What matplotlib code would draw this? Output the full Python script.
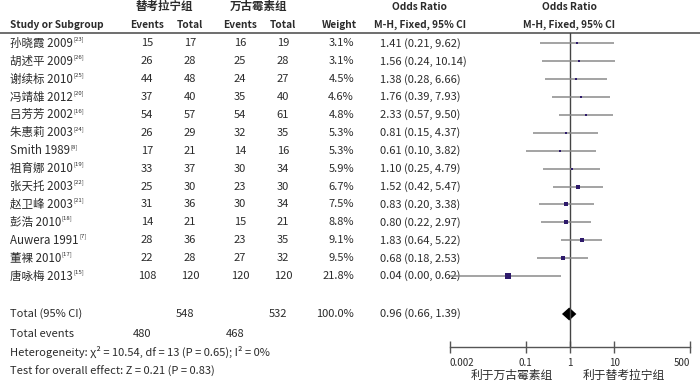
'''Forest plot: teicoplanin vs vancomycin, odds ratio (M-H, fixed)'''

import numpy as np
import matplotlib
matplotlib.use("Agg")
import matplotlib.pyplot as plt

plt.rcParams['font.family'] = ['Noto Sans CJK SC', 'DejaVu Sans']

# data
studies = ['孙晓霞 2009', '胡述平 2009', '谢续标 2010', '冯靖雄 2012', '吕芳芳 2002',
           '朱惠莉 2003', 'Smith 1989', '祖育娜 2010', '张天托 2003', '赵卫峰 2003',
           '彭浩 2010', 'Auwera 1991', '董裸 2010', '唐咏梅 2013']
refs = [23, 26, 25, 20, 16, 24, 8, 19, 22, 21, 18, 7, 17, 15]
events_t = [15, 26, 44, 37, 54, 26, 17, 33, 25, 31, 14, 28, 22, 108]
total_t = [17, 28, 48, 40, 57, 29, 21, 37, 30, 36, 21, 36, 28, 120]
events_v = [16, 25, 24, 35, 54, 32, 14, 30, 23, 30, 15, 23, 27, 120]
total_v = [19, 28, 27, 40, 61, 35, 16, 34, 30, 34, 21, 35, 32, 120]
weights = [3.1, 3.1, 4.5, 4.6, 4.8, 5.3, 5.3, 5.9, 6.7, 7.5, 8.8, 9.1, 9.5, 21.8]
odds = [1.41, 1.56, 1.38, 1.76, 2.33, 0.81, 0.61, 1.10, 1.52, 0.83, 0.80, 1.83, 0.68, 0.04]
ci_low = [0.21, 0.24, 0.28, 0.39, 0.57, 0.15, 0.10, 0.25, 0.42, 0.20, 0.22, 0.64, 0.18, 0.00]
ci_high = [9.62, 10.14, 6.66, 7.93, 9.50, 4.37, 3.82, 4.79, 5.47, 3.38, 2.97, 5.22, 2.53, 0.62]

total_n_t, total_n_v = 548, 532
total_ev_t, total_ev_v = 480, 468
pooled = (0.96, 0.66, 1.39)

xticks = [0.002, 0.1, 1, 10, 500]
xtick_labels = ['0.002', '0.1', '1', '10', '500']

TXT = '#2b2b2b'
MARK = '#2e1a6b'
FS = 8

W, H = 700, 381
fig = plt.figure(figsize=(W / 100, H / 100), dpi=100)
renderer = fig.canvas.get_renderer()

# table axes in pixel coordinates
tab = fig.add_axes([0, 0, 1, 1])
tab.set_xlim(0, W)
tab.set_ylim(H, 0)
tab.axis('off')

# column positions
x_name = 10
x_et, x_nt, x_ev, x_nv = 147, 190, 240, 283
x_w = 354
x_or = 380

row_y = 43.3 + 17.9 * np.arange(len(studies))
y_total = 314
y_events = 334
y_het = 352
y_test = 371

# headers
hdr = dict(fontsize=7.3, color=TXT, fontweight='bold', va='center')
tab.text(164, 6.5, '替考拉宁组', ha='center', **{**hdr, 'fontsize': 8.3})
tab.text(259, 6.5, '万古霉素组', ha='center', **{**hdr, 'fontsize': 8.3})
tab.text(420, 6.5, 'Odds Ratio', ha='center', **hdr)
tab.text(569, 6.5, 'Odds Ratio', ha='center', **hdr)
tab.text(x_name, 24.5, 'Study or Subgroup', ha='left', **hdr)
tab.text(x_et, 24.5, 'Events', ha='center', **hdr)
tab.text(x_nt, 24.5, 'Total', ha='center', **hdr)
tab.text(x_ev, 24.5, 'Events', ha='center', **hdr)
tab.text(x_nv, 24.5, 'Total', ha='center', **hdr)
tab.text(357, 24.5, 'Weight', ha='right', **hdr)
tab.text(420, 24.5, 'M-H, Fixed, 95% CI', ha='center', **hdr)
tab.text(569, 24.5, 'M-H, Fixed, 95% CI', ha='center', **hdr)
tab.plot([0, W], [33, 33], color='#555555', lw=1.2)

body = dict(fontsize=FS, color=TXT, va='center')
for i, y in enumerate(row_y):
    name = tab.text(x_name, y, studies[i], ha='left', **{**body, 'fontsize': 8.3})
    # small reference number right after the study name
    x_end = name.get_window_extent(renderer).x1
    tab.text(x_end + 0.5, y - 4, f'[{refs[i]}]', ha='left', fontsize=4.3, color=TXT, va='center')
    tab.text(x_et, y, str(events_t[i]), ha='center', **body)
    tab.text(x_nt, y, str(total_t[i]), ha='center', **body)
    tab.text(x_ev, y, str(events_v[i]), ha='center', **body)
    tab.text(x_nv, y, str(total_v[i]), ha='center', **body)
    tab.text(x_w, y, f'{weights[i]:.1f}%', ha='right', **body)
    tab.text(x_or, y, f'{odds[i]:.2f} ({ci_low[i]:.2f}, {ci_high[i]:.2f})', ha='left', **body)

tab.text(x_name, y_total, 'Total (95% CI)', ha='left', **body)
tab.text(x_nt - 5, y_total, str(total_n_t), ha='center', **body)
tab.text(x_nv - 5, y_total, str(total_n_v), ha='center', **body)
tab.text(x_w, y_total, f'{sum(weights):.1f}%', ha='right', **body)
tab.text(x_or, y_total, f'{pooled[0]:.2f} ({pooled[1]:.2f}, {pooled[2]:.2f})', ha='left', **body)
tab.text(x_name, y_events, 'Total events', ha='left', **body)
tab.text(x_et - 5, y_events, str(total_ev_t), ha='center', **body)
tab.text(x_ev - 5, y_events, str(total_ev_v), ha='center', **body)
tab.text(x_name, y_het, 'Heterogeneity: χ² = 10.54, df = 13 (P = 0.65); I² = 0%', ha='left', **body)
tab.text(x_name, y_test, 'Test for overall effect: Z = 0.21 (P = 0.83)', ha='left', **body)

# forest axes: x in log OR, y shares the table's pixel rows
ax_bottom = 347
fx0, fx1 = 450, 690
ax = fig.add_axes([fx0 / W, (H - ax_bottom) / H, (fx1 - fx0) / W, (ax_bottom - 33) / H])
ax.set_xscale('log')
ax.set_xlim(xticks[0], xticks[-1])
ax.set_ylim(ax_bottom, 33)
ax.patch.set_alpha(0)
for s in ['top', 'left', 'right']:
    ax.spines[s].set_visible(False)
ax.spines['bottom'].set_color('#555555')
ax.spines['bottom'].set_linewidth(1)
ax.set_yticks([])
ax.set_xticks(xticks)
ax.set_xticklabels(xtick_labels)
ax.minorticks_off()
ax.tick_params(axis='x', direction='inout', length=8, width=1, color='#555555',
               labelsize=7, labelcolor=TXT, pad=4)
labels = ax.get_xticklabels()
labels[0].set_ha('left')
labels[-1].set_ha('right')

ax.axvline(1, color='#444444', lw=1)

lo = np.clip(ci_low, xticks[0], xticks[-1])
hi = np.clip(ci_high, xticks[0], xticks[-1])
ax.hlines(row_y, lo, hi, color='#8a8a8a', lw=1.1)
for i, y in enumerate(row_y):
    side_px = 5.5 * np.sqrt(weights[i] / max(weights))
    ax.plot(odds[i], y, marker='s', linestyle='none', color=MARK,
            markersize=side_px * 0.72, markeredgewidth=0)

est, plo, phi = pooled
dh = 6.5
ax.fill([plo, est, phi, est], [y_total, y_total - dh, y_total, y_total + dh],
        color='black', lw=0)

tab.text(512, 375, '利于万古霉素组', ha='center', **{**body, 'fontsize': 8.5})
tab.text(624, 375, '利于替考拉宁组', ha='center', **{**body, 'fontsize': 8.5})

fig.savefig('out.png', dpi=100)
